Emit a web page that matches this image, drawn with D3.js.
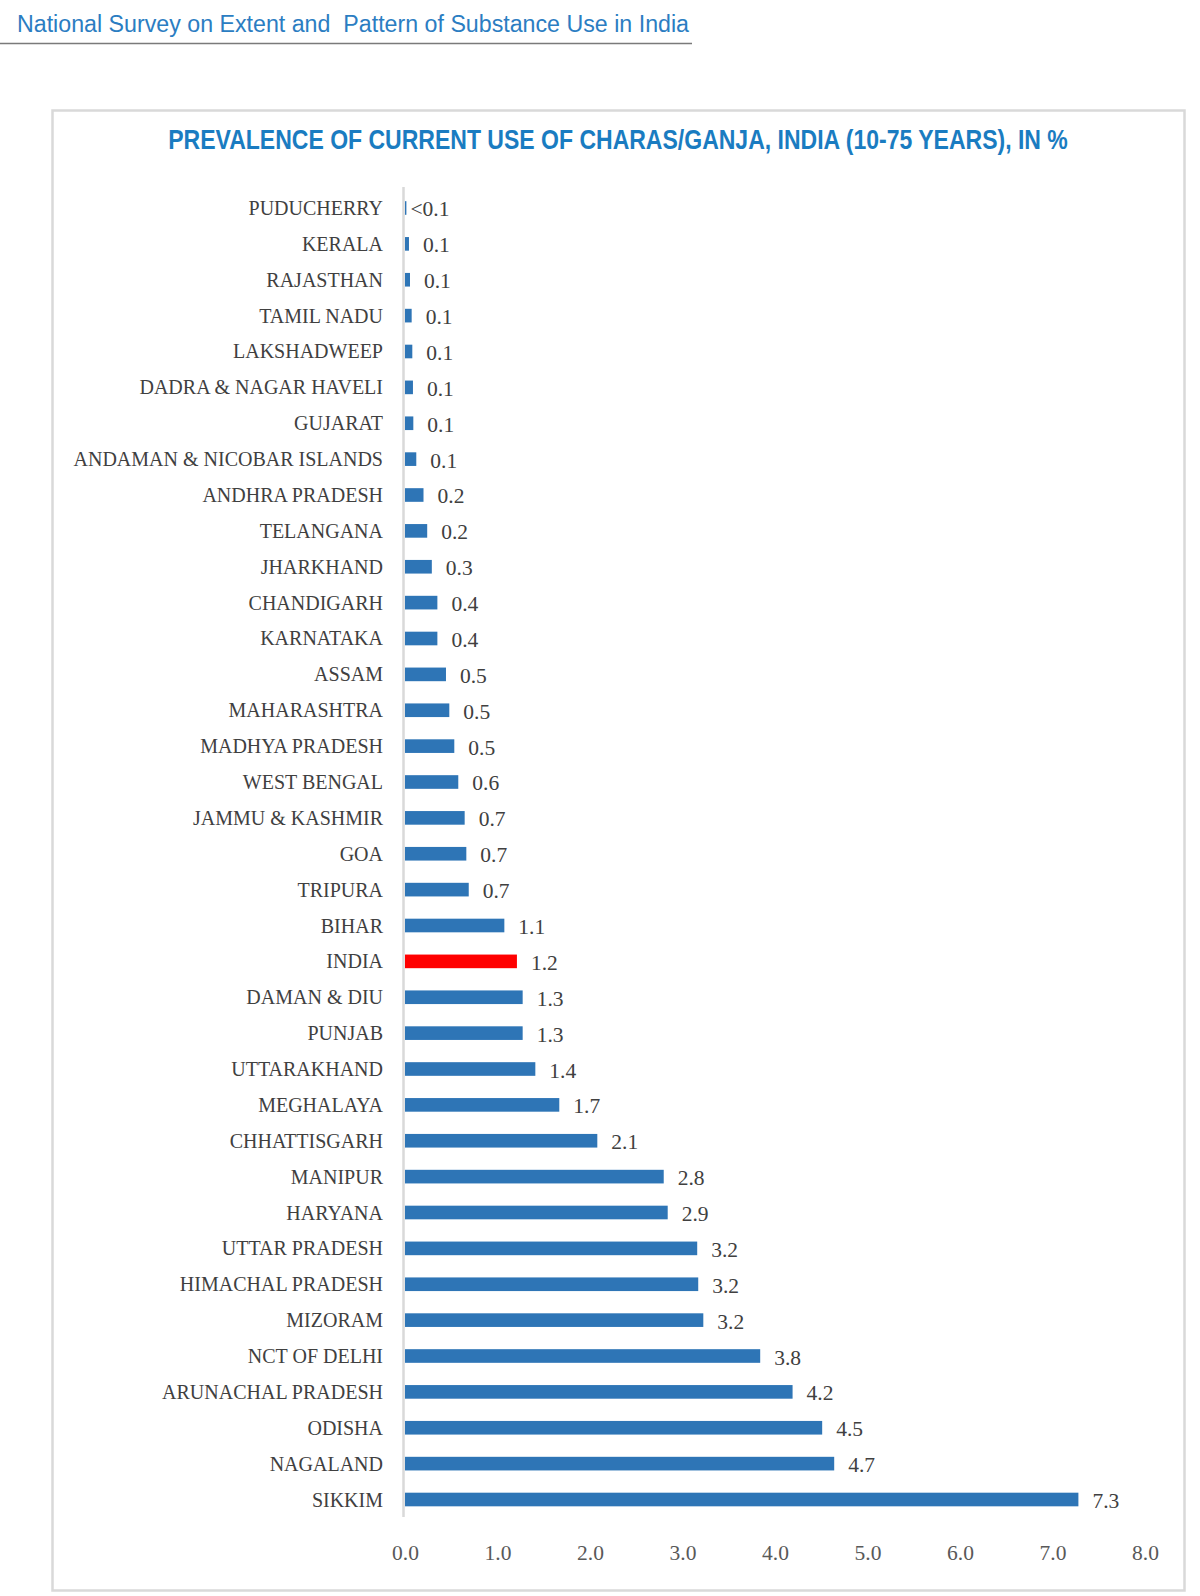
<!DOCTYPE html>
<html>
<head>
<meta charset="utf-8">
<script src="https://cdn.jsdelivr.net/npm/d3@7"></script>
<style>
  html, body { margin: 0; padding: 0; background: #ffffff; }
  svg { display: block; }
</style>
</head>
<body>
<svg id="chart" width="1200" height="1596"></svg>
<script>
// ---- data ----
const headerText = "National Survey on Extent and  Pattern of Substance Use in India";
const chartTitle = "PREVALENCE OF CURRENT USE OF CHARAS/GANJA, INDIA (10-75 YEARS), IN %";

const categories = [
  "PUDUCHERRY", "KERALA", "RAJASTHAN", "TAMIL NADU", "LAKSHADWEEP",
  "DADRA & NAGAR HAVELI", "GUJARAT", "ANDAMAN & NICOBAR ISLANDS",
  "ANDHRA PRADESH", "TELANGANA", "JHARKHAND", "CHANDIGARH", "KARNATAKA",
  "ASSAM", "MAHARASHTRA", "MADHYA PRADESH", "WEST BENGAL", "JAMMU & KASHMIR",
  "GOA", "TRIPURA", "BIHAR", "INDIA", "DAMAN & DIU", "PUNJAB", "UTTARAKHAND",
  "MEGHALAYA", "CHHATTISGARH", "MANIPUR", "HARYANA", "UTTAR PRADESH",
  "HIMACHAL PRADESH", "MIZORAM", "NCT OF DELHI", "ARUNACHAL PRADESH",
  "ODISHA", "NAGALAND", "SIKKIM"
];

const values = [
  0.015, 0.043, 0.054, 0.072, 0.079,
  0.086, 0.09, 0.122,
  0.2, 0.24, 0.29, 0.35, 0.35,
  0.443, 0.479, 0.533, 0.576, 0.645,
  0.663, 0.689, 1.074, 1.21, 1.272, 1.272, 1.409,
  1.668, 2.079, 2.797, 2.84, 3.159,
  3.17, 3.225, 3.84, 4.19,
  4.51, 4.64, 7.28
];

const valueLabels = [
  "<0.1", "0.1", "0.1", "0.1", "0.1",
  "0.1", "0.1", "0.1",
  "0.2", "0.2", "0.3", "0.4", "0.4",
  "0.5", "0.5", "0.5", "0.6", "0.7",
  "0.7", "0.7", "1.1", "1.2", "1.3", "1.3", "1.4",
  "1.7", "2.1", "2.8", "2.9", "3.2",
  "3.2", "3.2", "3.8", "4.2",
  "4.5", "4.7", "7.3"
];

const highlight = "INDIA";
const xTicks = [0, 1, 2, 3, 4, 5, 6, 7, 8];

// ---- drawing ----
const svg = d3.select("#chart");
const serif = "'Liberation Serif', 'Times New Roman', serif";

// page header
svg.append("text")
  .attr("x", 17).attr("y", 32)
  .attr("font-family", "'Liberation Sans', Arial, sans-serif")
  .attr("font-size", 23)
  .attr("fill", "#2b7dc2")
  .attr("textLength", 672)
  .attr("lengthAdjust", "spacingAndGlyphs")
  .style("white-space", "pre")
  .text(headerText);

svg.append("line")
  .attr("x1", 0).attr("x2", 692)
  .attr("y1", 43.5).attr("y2", 43.5)
  .attr("stroke", "#7a7a7a").attr("stroke-width", 1.5);

// chart frame
svg.append("rect")
  .attr("x", 52.5).attr("y", 110.5)
  .attr("width", 1132).attr("height", 1480)
  .attr("fill", "#ffffff")
  .attr("stroke", "#d9d9d9").attr("stroke-width", 2.5);

// title (condensed horizontally to match the narrow bold face)
const titleG = svg.append("g").attr("transform", "translate(618,149)");
const titleText = titleG.append("text")
  .attr("x", 0).attr("y", 0)
  .attr("text-anchor", "middle")
  .attr("font-family", "'Liberation Sans Narrow', 'Arial Narrow', 'Liberation Sans', sans-serif")
  .attr("font-weight", "bold")
  .attr("font-size", 27)
  .attr("fill", "#1a7cc1")
  .text(chartTitle);
const natural = titleText.node().getComputedTextLength();
const sx = natural > 0 ? Math.min(1, 900 / natural) : 1;
titleText.attr("transform", `scale(${sx},1)`);

// scales
const x = d3.scaleLinear().domain([0, 8]).range([405, 1145]);
const y = d3.scaleBand()
  .domain(categories)
  .range([190.06, 1517.44])
  .paddingInner(0.62)
  .paddingOuter(0.31);

const rows = categories.map((c, i) => ({ c, v: values[i], label: valueLabels[i] }));

// bars
svg.append("g").selectAll("rect")
  .data(rows)
  .join("rect")
  .attr("x", x(0))
  .attr("y", d => y(d.c))
  .attr("width", d => Math.max(1, x(d.v) - x(0)))
  .attr("height", y.bandwidth())
  .attr("fill", d => d.c === highlight ? "#ff0000" : "#2e75b6");

// vertical axis line
svg.append("line")
  .attr("x1", 403.5).attr("x2", 403.5)
  .attr("y1", 187).attr("y2", 1517)
  .attr("stroke", "#d9d9d9").attr("stroke-width", 2.5);

// category labels
svg.append("g").selectAll("text")
  .data(rows)
  .join("text")
  .attr("x", 383)
  .attr("y", d => y(d.c) + y.bandwidth() / 2 + 7)
  .attr("text-anchor", "end")
  .attr("font-family", serif)
  .attr("font-size", 20)
  .attr("fill", "#404040")
  .text(d => d.c);

// value labels
svg.append("g").selectAll("text")
  .data(rows)
  .join("text")
  .attr("x", d => x(d.v) + (d.label.startsWith("<") ? 4 : 14))
  .attr("y", d => y(d.c) + y.bandwidth() / 2 + 8.5)
  .attr("font-family", serif)
  .attr("font-size", 21.5)
  .attr("fill", "#404040")
  .text(d => d.label);

// x axis (tick labels only)
const xAxis = d3.axisBottom(x)
  .tickValues(xTicks)
  .tickFormat(d3.format(".1f"))
  .tickSize(0)
  .tickPadding(0);

const gx = svg.append("g")
  .attr("transform", "translate(0,1545)")
  .call(xAxis);
gx.select(".domain").remove();
gx.selectAll("text")
  .attr("font-family", serif)
  .attr("font-size", 21.5)
  .attr("fill", "#595959")
  .attr("dy", "0.7em");
</script>
</body>
</html>
